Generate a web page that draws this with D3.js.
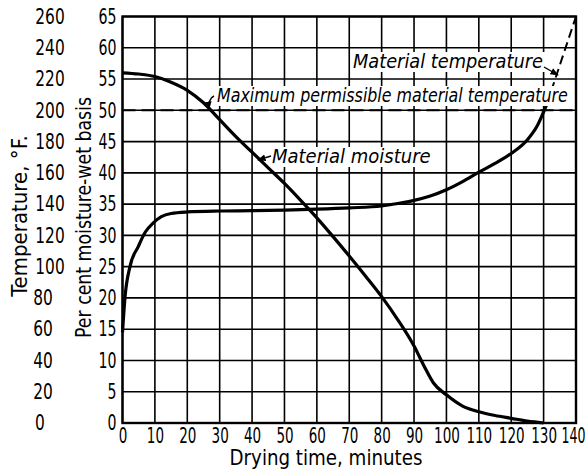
<!DOCTYPE html>
<html><head><meta charset="utf-8">
<script src="https://cdn.jsdelivr.net/npm/d3@7"></script>
<style>
html,body{margin:0;padding:0;background:#fff;}
svg{display:block;}
</style></head>
<body>
<script>
// ---- data ----
const timeTicks = [0,10,20,30,40,50,60,70,80,90,100,110,120,130,140];
const moistureTicks = [0,5,10,15,20,25,30,35,40,45,50,55,60,65];
const tempTicks = [0,20,40,60,80,100,120,140,160,180,200,220,240,260];

const moistureTime = [0,5,10,15,20,25,30,35,40,45,50,55,60,65,70,75,80,85,90,93,96,100,105,110,115,120,125,130];
const moistureValues = [56,55.8,55.4,54.5,53.2,51.2,48.5,45.8,43.3,40.8,38.3,35.6,32.8,29.8,26.7,23.5,20.2,16.5,12.3,9.2,6.4,4.5,2.7,1.8,1.2,0.75,0.3,0];

const tempTime = [0,0.8,2.3,4.9,7,9.5,12,15,20,30,40,50,60,70,80,85,90,95,100,105,110,115,120,125,128,131];
const tempValues = [58,81,100,113,122,128,132,134,135,135.6,135.8,136.2,136.8,137.6,138.8,140.4,142.4,145.2,149.2,154.4,160.4,166,172.4,181.2,190,204];

const tempExtTime = [131,140];
const tempExtValues = [204,260];

const maxTempTime = [0,140];
const maxTempValues = [200,200];

const labels = {
  xTitle: "Drying time, minutes",
  yTitle: "Per cent moisture-wet basis",
  tTitle: "Temperature, °F.",
  matTemp: "Material temperature",
  maxTemp: "Maximum permissible material temperature",
  moist: "Material moisture"
};

// ---- drawing ----
const W = 587, H = 473;
const FONT = "'DejaVu Sans Condensed','Liberation Sans Narrow','Liberation Sans',sans-serif";
const svg = d3.select("body").append("svg").attr("width", W).attr("height", H);

const x = d3.scaleLinear().domain([0,140]).range([122.5,576]);
const y = d3.scaleLinear().domain([0,65]).range([423,16.5]);
const yT = d3.scaleLinear().domain([0,260]).range([423,16.5]);

// squeeze a text horizontally about its x anchor so it is `w` px wide
function squeeze(node, w){
  const t = d3.select(node);
  const nat = node.getComputedTextLength();
  const k = Math.min(1, w / nat);
  const x0 = +(t.attr("x") || 0);
  t.attr("transform", `translate(${x0},0) scale(${k},1) translate(${-x0},0)`);
}
const digitW = 9;

// grid
const grid = svg.append("g").attr("stroke","#000").attr("stroke-width",1.6);
grid.selectAll("line.v").data(timeTicks).join("line")
  .attr("x1",d=>x(d)).attr("x2",d=>x(d)).attr("y1",y(0)).attr("y2",y(65));
grid.selectAll("line.h").data(moistureTicks).join("line")
  .attr("y1",d=>y(d)).attr("y2",d=>y(d)).attr("x1",x(0)).attr("x2",x(140));

// border
svg.append("rect").attr("x",x(0)).attr("y",y(65)).attr("width",x(140)-x(0)).attr("height",y(0)-y(65))
  .attr("fill","none").attr("stroke","#000").attr("stroke-width",2.4);

// axes text
const xAxis = d3.axisBottom(x).tickValues(timeTicks).tickSize(0).tickPadding(5).tickFormat(d3.format("d"));
const gx = svg.append("g").attr("transform",`translate(0,${y(0)})`).call(xAxis);
gx.select(".domain").remove();
gx.selectAll("text").attr("font-family",FONT).attr("font-size",21).attr("fill","#000")
  .attr("x", d => d === 140 ? -3 : 0)
  .each(function(d){ squeeze(this, String(d).length * (d === 140 ? 8 : 8.6)); });

const yAxis = d3.axisLeft(y).tickValues(moistureTicks).tickSize(0).tickPadding(6).tickFormat(d3.format("d"));
const gy = svg.append("g").attr("transform",`translate(${x(0)},0)`).call(yAxis);
gy.select(".domain").remove();
gy.selectAll("text").attr("font-family",FONT).attr("font-size",21).attr("fill","#000")
  .each(function(d){ squeeze(this, String(d).length * digitW); });

const tAxis = d3.axisLeft(yT).tickValues(tempTicks).tickSize(0).tickPadding(0).tickFormat(d3.format("d"));
const gt = svg.append("g").attr("transform",`translate(0,0)`).call(tAxis);
gt.select(".domain").remove();
gt.selectAll("text").attr("font-family",FONT).attr("font-size",21).attr("fill","#000")
  .attr("text-anchor","middle")
  .attr("x",d=> d>=100 ? 50 : (d===0 ? 40 : 43))
  .each(function(d){ squeeze(this, String(d).length * 9.8); });

// axis titles
svg.append("text").attr("x",326).attr("y",465).attr("text-anchor","middle")
  .attr("font-family",FONT).attr("font-size",21)
  .text(labels.xTitle).each(function(){ squeeze(this, 193); });
svg.append("g").attr("transform","translate(91,217.5) rotate(-90)")
  .append("text").attr("x",0).attr("y",0).attr("text-anchor","middle")
  .attr("font-family",FONT).attr("font-size",21)
  .text(labels.yTitle).each(function(){ squeeze(this, 241); });
svg.append("g").attr("transform","translate(27,216) rotate(-90)")
  .append("text").attr("x",0).attr("y",0).attr("text-anchor","middle")
  .attr("font-family",FONT).attr("font-size",22)
  .text(labels.tTitle).each(function(){ squeeze(this, 162); });

// lines
const lineM = d3.line().x(d=>x(d[0])).y(d=>y(d[1])).curve(d3.curveMonotoneX);
const lineT = d3.line().x(d=>x(d[0])).y(d=>yT(d[1])).curve(d3.curveMonotoneX);

svg.append("path").datum(maxTempTime.map((t,i)=>[t,maxTempValues[i]]))
  .attr("d",d3.line().x(d=>x(d[0])).y(d=>yT(d[1])))
  .attr("fill","none").attr("stroke","#000").attr("stroke-width",2).attr("stroke-dasharray","13,6");

svg.append("path").datum(moistureTime.map((t,i)=>[t,moistureValues[i]]))
  .attr("d",lineM).attr("fill","none").attr("stroke","#000").attr("stroke-width",3.2);

svg.append("path").datum(tempTime.map((t,i)=>[t,tempValues[i]]))
  .attr("d",lineT).attr("fill","none").attr("stroke","#000").attr("stroke-width",3.2);

svg.append("path").datum(tempExtTime.map((t,i)=>[t,tempExtValues[i]]))
  .attr("d",d3.line().x(d=>x(d[0])).y(d=>yT(d[1])))
  .attr("fill","none").attr("stroke","#000").attr("stroke-width",2).attr("stroke-dasharray","9,5");

// annotation labels with white backgrounds
function label(txt, x0, base, len, size){
  const g = svg.append("g");
  g.append("rect").attr("x",x0-2).attr("y",base-size*0.8).attr("width",len+4).attr("height",size*1.0).attr("fill","#fff");
  g.append("text").attr("x",x0).attr("y",base).attr("font-family",FONT).attr("font-style","italic")
    .attr("font-size",size).text(txt).each(function(){ squeeze(this, len); });
}
label(labels.matTemp, 353, 68, 190, 20);
label(labels.maxTemp, 217, 102, 351, 20);
label(labels.moist, 272, 163, 170, 20);

// arrows
const defs = svg.append("defs");
defs.append("marker").attr("id","ah").attr("viewBox","0 0 10 10").attr("refX",9).attr("refY",5)
  .attr("markerWidth",6).attr("markerHeight",6).attr("orient","auto")
  .append("path").attr("d","M0,1 L10,5 L0,9 Z").attr("fill","#000");
const arrow = (d)=> svg.append("path").attr("d",d).attr("fill","none").attr("stroke","#000")
  .attr("stroke-width",1.4).attr("marker-end","url(#ah)");
arrow("M271,156 L258,160");
arrow("M214,96 Q208,99 209,109");
arrow("M544,67 Q551,71 558,75");
</script>
</body></html>
